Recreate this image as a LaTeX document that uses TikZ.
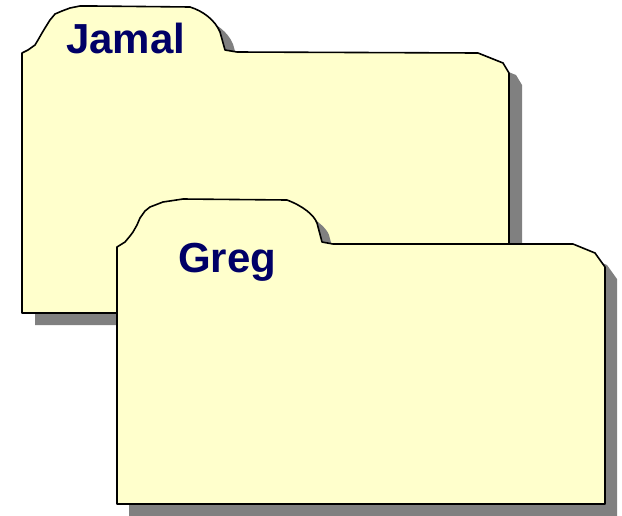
\documentclass[tikz,border=0pt]{standalone}
\usepackage{fontspec}
\setmainfont{Liberation Sans}
\definecolor{folderfill}{HTML}{FFFFCC}
\definecolor{foldershadow}{HTML}{808080}
\definecolor{labelnavy}{HTML}{000066}
\tikzset{
  folder/.style={fill=folderfill, draw=black, line width=1.6pt, line join=round},
  fshadow/.style={fill=foldershadow, draw=none},
  flabel/.style={font=\fontsize{42}{42}\selectfont\bfseries, text=labelnavy, anchor=base west, inner sep=0pt}
}
\begin{document}
\begin{tikzpicture}[x=1pt,y=-1pt]
\useasboundingbox (0,0) rectangle (622,515);
\def\jamalpath{(22,313) -- (22,53) -- (28,50) -- (35,45) -- (38,40) -- (42,33) -- (45,28) -- (50,20) -- (55,14) -- (62,11) -- (70,8) -- (80,6) -- (93,6) -- (190,7) .. controls (203,11) and (215,20) .. (220,32) -- (225,50) -- (237,52) -- (478,53) -- (503,63) -- (509,73) -- (509,313) -- cycle}
\def\gregpath{(117,504) -- (117,247) -- (125,242) -- (130,236) -- (133,232) -- (137,225) -- (140,218) -- (145,211) -- (150,207) -- (163,202) -- (183,199) -- (287,200) .. controls (303,206) and (314,215) .. (317,223) -- (322,242) -- (333,244) -- (573,244) -- (595,253) -- (605,267) -- (605,504) -- cycle}
% Jamal folder
\fill[fshadow, shift={(13,12)}] \jamalpath;
\draw[folder] \jamalpath;
\node[flabel] (jamal) at (66,53) {Jamal};
% Greg folder
\fill[fshadow, shift={(12,12)}] \gregpath;
\draw[folder] \gregpath;
\node[flabel] (greg) at (178,272) {Greg};
\end{tikzpicture}
\end{document}
